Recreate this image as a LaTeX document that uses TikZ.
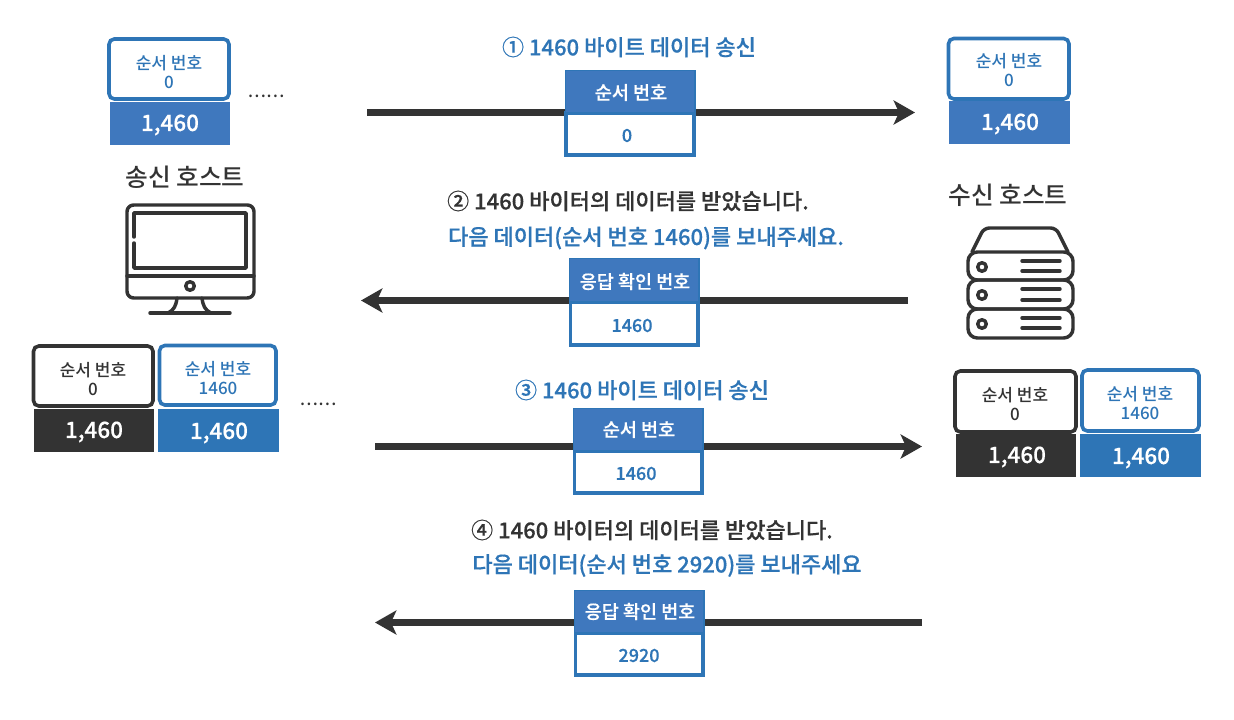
\documentclass[tikz,border=0pt]{standalone}
\usepackage{fontspec}
\setmainfont{Noto Sans CJK KR}
\newfontfamily\medf{Noto Sans CJK KR Medium}
\newfontfamily\hvyf[FakeBold=0.5]{Noto Sans CJK KR Medium}
\usetikzlibrary{arrows.meta}
\definecolor{bl}{HTML}{2E75B6}
\definecolor{bf}{HTML}{3F78BE}
\definecolor{dk}{HTML}{333333}
\newcommand{\fsz}[1]{\fontsize{\dimexpr #1pt*3/4\relax}{\dimexpr #1pt*9/10\relax}\selectfont}
\tikzset{
  x=0.75pt,y=-0.75pt,
  seqbox/.style={draw=#1,line width=2.7pt,rounded corners=4pt,fill=white,inner sep=0pt},
  seqtxt/.style={text=#1,inner sep=0pt,font=\medf\fsz{17}},
  lenbox/.style={fill=#1,inner sep=0pt},
  lentxt/.style={text=white,inner sep=0pt,font=\hvyf\fsz{22.5}},
  hdr/.style={fill=bf,draw=bl,line width=1.2pt,inner sep=0pt},
  hdrtxt/.style={text=white,inner sep=0pt,font=\hvyf\fsz{18.5}},
  valbox/.style={draw=bl,fill=white,line width=2.7pt,inner sep=0pt},
  valtxt/.style={text=bl,inner sep=0pt,font=\hvyf\fsz{18}},
  title/.style={inner sep=0pt,font=\hvyf\fsz{22}},
  hostlbl/.style={inner sep=0pt,text=dk,font=\medf\fsz{24.7}},
  dotsl/.style={inner sep=0pt,text=dk,font=\medf\fsz{17}},
  flow/.style={draw=dk,line width=5.2pt,-{Stealth[length=16pt,width=18pt,inset=4pt]}},
  icon/.style={draw=dk,line width=2.6pt,line cap=round,line join=round},
}
% name, x1,y1,x2,y2, style
\newcommand{\bx}[6]{%
  \pgfmathsetmacro{\cxx}{(#2+#4)/2}\pgfmathsetmacro{\cyy}{(#3+#5)/2}%
  \pgfmathsetmacro{\ww}{(#4-#2)*0.75}\pgfmathsetmacro{\hh}{(#5-#3)*0.75}%
  \node[#6,minimum width=\ww pt,minimum height=\hh pt] (#1) at (\cxx,\cyy) {};}
\begin{document}
\begin{tikzpicture}
\useasboundingbox (0,0) rectangle (1234,720);
% top-left
\bx{sa}{109}{39}{229}{99}{seqbox=bl}
\node[seqtxt=bl] (sa1) at (169,63.5) {순서 번호};
\node[seqtxt=bl] (sa2) at (169,82) {0};
\bx{la}{110}{102}{230}{145}{lenbox=bf}
\node[lentxt] (lat) at (170,125) {1,460};
\node[dotsl] (da) at (266,96) {……};
\node[hostlbl] (hs) at (185,177.5) {송신 호스트};
% monitor
\draw[icon,rounded corners=5pt] (127,205) rectangle (254,298);
\draw[icon] (134,237) -- (134,213) -- (246,213) -- (246,268) -- (134,268) -- (134,243);
\draw[icon] (127,276) -- (254,276);
\draw[icon] (190,286) circle (3.2pt);
\draw[icon] (177,298) .. controls (176,306) and (174,310) .. (168,313);
\draw[icon] (202,298) .. controls (203,306) and (205,310) .. (211,313);
\draw[icon] (150,313) -- (230,313);
% bottom-left
\bx{sb}{33.5}{346}{153}{406}{seqbox=dk}
\node[seqtxt=dk] (sb1) at (93,370.5) {순서 번호};
\node[seqtxt=dk] (sb2) at (93,389) {0};
\bx{sc}{159.5}{345.5}{276}{405}{seqbox=bl}
\node[seqtxt=bl] (sc1) at (218,369.5) {순서 번호};
\node[seqtxt=bl] (sc2) at (218,388) {1460};
\bx{lb}{34}{409}{154}{452}{lenbox=dk}
\node[lentxt] (lbt) at (94,432) {1,460};
\bx{lc}{158}{409}{279}{452}{lenbox=bl}
\node[lentxt] (lct) at (219,433) {1,460};
\node[dotsl] (db) at (318,404) {……};
% top-right
\bx{sd}{948.5}{38.5}{1069}{99}{seqbox=bl}
\node[seqtxt=bl] (sd1) at (1009,61.5) {순서 번호};
\node[seqtxt=bl] (sd2) at (1009,80) {0};
\bx{ld}{949}{101}{1070}{144}{lenbox=bf}
\node[lentxt] (ldt) at (1010,124) {1,460};
\node[hostlbl] (hr) at (1008,195.5) {수신 호스트};
% server
\draw[icon,rounded corners=4pt] (972,252) -- (984,228) -- (1056,228) -- (1068,252);
\draw[icon,rounded corners=7pt] (968,252) rectangle (1073,280);
\draw[icon,rounded corners=7pt] (968,280) rectangle (1073,309);
\draw[icon,rounded corners=7pt] (968,309) rectangle (1073,338);
\foreach \yy in {267,295,324}{\draw[icon] (982,\yy) circle (3.2pt);}
\foreach \yy in {261,271,289,300,318,328}{\draw[icon] (1022,\yy) -- (1060,\yy);}
% bottom-right
\bx{se}{955}{371}{1076}{432}{seqbox=dk}
\node[seqtxt=dk] (se1) at (1015,395.5) {순서 번호};
\node[seqtxt=dk] (se2) at (1015,414) {0};
\bx{sf}{1082}{370}{1199}{431}{seqbox=bl}
\node[seqtxt=bl] (sf1) at (1140,394.5) {순서 번호};
\node[seqtxt=bl] (sf2) at (1140,413) {1460};
\bx{le}{956}{434}{1076}{477}{lenbox=dk}
\node[lentxt] (let) at (1017,457) {1,460};
\bx{lf}{1080}{434}{1201}{477}{lenbox=bl}
\node[lentxt] (lft) at (1141,458) {1,460};
% flows
\coordinate (a1) at (367,112.5); \coordinate (a2) at (915,112.5);
\coordinate (b1) at (908,300.5); \coordinate (b2) at (361,300.5);
\coordinate (c1) at (375,446.5); \coordinate (c2) at (922,446.5);
\coordinate (d1) at (922,622.5); \coordinate (d2) at (375,622.5);
\draw[flow] (a1) -- (a2);
\draw[flow] (b1) -- (b2);
\draw[flow] (c1) -- (c2);
\draw[flow] (d1) -- (d2);
% messages
\node[title,text=bl] (t1) at (629,47) {① 1460 바이트 데이터 송신};
\bx{v1}{566}{113}{694}{155}{valbox}
\bx{h1}{565.5}{70.5}{695}{113}{hdr}
\node[hdrtxt] at (631,92.5) (ht1) {순서 번호};
\node[valtxt] at (627,135.5) (vt1) {0};
\node[title,text=dk] (t2) at (628,201) {② 1460 바이터의 데이터를 받았습니다.};
\node[title,text=bl] (t2b) at (646,238) {다음 데이터(순서 번호 1460)를 보내주세요.};
\bx{v2}{570.5}{302}{698}{345}{valbox}
\bx{h2}{569.5}{258.5}{699}{302}{hdr}
\node[hdrtxt] at (635,281.5) (ht2) {응답 확인 번호};
\node[valtxt] at (632,325.5) (vt2) {1460};
\node[title,text=bl] (t3) at (642,390) {③ 1460 바이트 데이터 송신};
\bx{v3}{574.5}{451}{702}{493}{valbox}
\bx{h3}{573.5}{408.5}{703}{451}{hdr}
\node[hdrtxt] at (639,429.5) (ht3) {순서 번호};
\node[valtxt] at (636,473.5) (vt3) {1460};
\node[title,text=dk] (t4) at (652,530) {④ 1460 바이터의 데이터를 받았습니다.};
\node[title,text=bl] (t4b) at (667,565.5) {다음 데이터(순서 번호 2920)를 보내주세요};
\bx{v4}{575.5}{633}{703}{675}{valbox}
\bx{h4}{574.5}{590.5}{704}{633}{hdr}
\node[hdrtxt] at (640,611.5) (ht4) {응답 확인 번호};
\node[valtxt] at (639,655.5) (vt4) {2920};
\end{tikzpicture}
\end{document}
